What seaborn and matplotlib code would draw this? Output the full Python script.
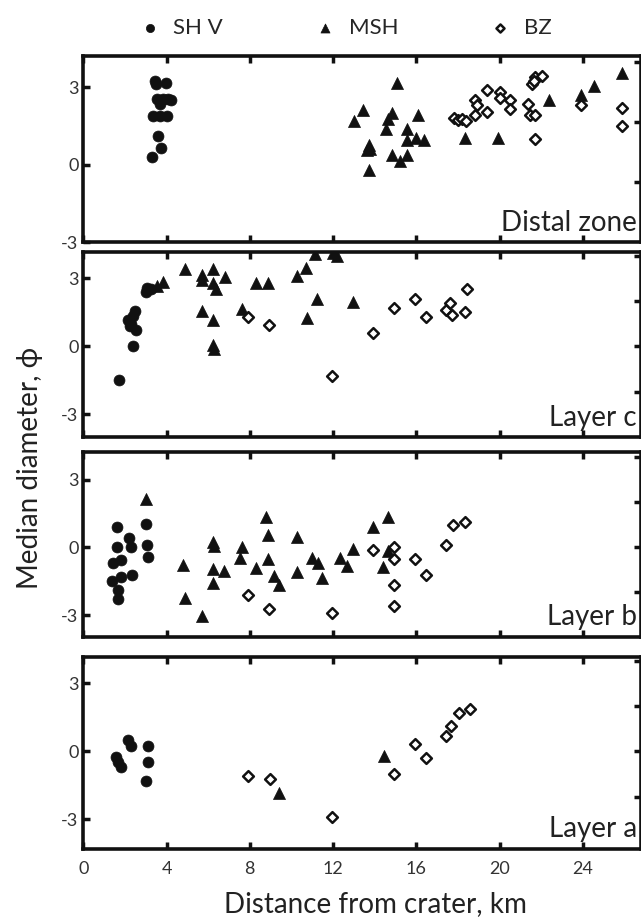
import numpy as np
import pandas as pd
import seaborn as sns
import matplotlib.pyplot as plt

# ---- data (distance km, median diameter phi) ----
# Distal zone
distal_shv_x = [3.45, 3.47, 3.97, 3.56, 3.85, 4.09, 4.2, 3.69, 3.37, 3.69, 4.01, 3.6, 3.74, 3.30]
distal_shv_y = [3.25, 3.15, 3.18, 2.57, 2.57, 2.57, 2.52, 2.37, 1.88, 1.88, 1.88, 1.10, 0.66, 0.32]
distal_msh_x = [15.07, 13.46, 13.01, 14.83, 14.66, 16.06, 14.55, 15.55, 15.55, 16.0, 16.35, 13.75,
                13.65, 13.8, 14.83, 15.55, 15.23, 13.75, 18.32, 19.92, 22.40, 23.91, 24.52, 25.9]
distal_msh_y = [3.18, 2.11, 1.70, 2.01, 1.79, 1.95, 1.37, 1.37, 0.97, 1.05, 0.95, 0.75,
                0.56, 0.62, 0.39, 0.39, 0.13, -0.22, 1.04, 1.04, 2.53, 2.70, 3.05, 3.57]
distal_bz_x = [17.8, 18.0, 18.2, 18.4, 18.83, 18.91, 18.83, 19.42, 19.39, 20.0, 20.03, 20.51,
               20.51, 21.39, 21.48, 21.72, 21.56, 21.72, 22.04, 21.65, 21.72, 23.91, 25.9, 25.9]
distal_bz_y = [1.8, 1.72, 1.78, 1.7, 2.53, 2.31, 1.92, 2.92, 2.05, 2.83, 2.61, 2.50,
               2.18, 2.35, 1.92, 1.92, 3.15, 3.41, 3.44, 3.25, 1.01, 2.31, 2.2, 1.49]

# Layer c
c_shv_x = [1.73, 2.40, 2.16, 2.3, 2.49, 2.53, 2.25, 2.4, 3.05, 3.0, 3.25]
c_shv_y = [-1.50, 0.0, 1.18, 1.0, 1.55, 0.74, 0.89, 1.35, 2.58, 2.39, 2.51]
c_msh_x = [3.56, 3.85, 4.89, 5.69, 5.69, 6.25, 6.25, 6.36, 6.81, 5.69, 6.25, 6.25, 6.28, 7.64,
           8.29, 8.86, 10.26, 10.69, 11.14, 11.22, 10.77, 11.99, 12.18, 12.95]
c_msh_y = [2.65, 2.83, 3.42, 3.13, 2.92, 3.42, 2.80, 2.54, 3.07, 1.55, 1.15, 0.07, -0.12, 1.65,
           2.77, 2.77, 3.10, 3.47, 4.06, 2.07, 1.26, 4.13, 3.98, 1.95]
c_bz_x = [7.89, 8.94, 11.97, 13.94, 14.95, 15.95, 16.46, 17.44, 17.63, 17.74, 18.32, 18.43]
c_bz_y = [1.30, 0.92, -1.30, 0.59, 1.70, 2.10, 1.30, 1.62, 1.92, 1.36, 1.50, 2.51]

# Layer b
b_shv_x = [1.60, 1.60, 1.41, 1.81, 1.36, 1.81, 1.68, 1.68, 2.20, 2.29, 2.33, 3.01, 3.05, 3.13]
b_shv_y = [0.92, 0.0, -0.71, -0.56, -1.47, -1.30, -1.89, -2.29, 0.41, 0.0, -1.22, 1.03, 0.10, -0.41]
b_msh_x = [3.01, 4.78, 4.89, 5.69, 6.22, 6.30, 6.25, 6.25, 6.78, 7.64, 7.53, 8.29, 8.78, 8.86, 8.86,
           9.18, 9.38, 10.26, 10.26, 10.98, 11.27, 11.46, 12.34, 12.66, 12.95, 13.91, 14.66, 14.66, 14.42]
b_msh_y = [2.14, -0.78, -2.26, -3.02, 0.22, 0.07, -0.96, -1.59, -1.03, 0.03, -0.47, -0.93, 1.36, 0.56, -0.51,
           -1.25, -1.66, 0.44, -1.11, -0.47, -0.71, -1.37, -0.47, -0.81, -0.07, 0.92, 1.33, -0.18, -0.85]
b_bz_x = [7.89, 8.94, 11.97, 13.94, 14.95, 14.95, 14.95, 14.95, 15.95, 16.46, 17.44, 17.76, 18.32]
b_bz_y = [-2.11, -2.73, -2.92, -0.10, 0.0, -0.51, -1.69, -2.61, -0.51, -1.22, 0.11, 0.99, 1.11]

# Layer a
a_shv_x = [1.57, 1.68, 1.81, 2.16, 2.29, 3.09, 3.09, 3.0]
a_shv_y = [-0.25, -0.49, -0.71, 0.49, 0.25, 0.25, -0.49, -1.30]
a_msh_x = [9.38, 14.46]
a_msh_y = [-1.84, -0.22]
a_bz_x = [7.89, 8.98, 11.97, 14.95, 15.95, 16.46, 17.42, 17.66, 18.06, 18.56]
a_bz_y = [-1.11, -1.22, -2.92, -1.0, 0.30, -0.32, 0.69, 1.11, 1.70, 1.88]

panel_names = ["Distal zone", "Layer c", "Layer b", "Layer a"]
x_ticks = [0, 4, 8, 12, 16, 20, 24]
y_ticks = [-3, 0, 3]

sns.set_style("white")
plt.rcParams['font.family'] = ['Lato', 'DejaVu Sans']
plt.rcParams['axes.unicode_minus'] = False

panels = [
    (distal_shv_x, distal_shv_y, distal_msh_x, distal_msh_y, distal_bz_x, distal_bz_y),
    (c_shv_x, c_shv_y, c_msh_x, c_msh_y, c_bz_x, c_bz_y),
    (b_shv_x, b_shv_y, b_msh_x, b_msh_y, b_bz_x, b_bz_y),
    (a_shv_x, a_shv_y, a_msh_x, a_msh_y, a_bz_x, a_bz_y),
]

fig = plt.figure(figsize=(6.41, 9.22), dpi=100)
left, width = 0.130, 0.870
rects = [(0.7375, 0.2017), (0.5260, 0.2010), (0.3094, 0.2003), (0.0796, 0.2075)]
ylims = [(-3, 4.22), (-4.0, 4.17), (-3.96, 4.22), (-4.3, 4.15)]
right_ticks = [[-0.67, 1.67, 4.0], [-2, 0, 2, 4], [-2, 0, 2, 4], [-2, 0, 2, 4]]

axes = []
for i, (name, data) in enumerate(zip(panel_names, panels)):
    ax = fig.add_axes([left, rects[i][0], width, rects[i][1]])
    sx, sy, mx, my, bx, by = data
    sns.scatterplot(x=sx, y=sy, ax=ax, marker='o', color='#111', s=62,
                    edgecolor='#111', linewidth=0.5, label='SH V', zorder=3)
    sns.scatterplot(x=mx, y=my, ax=ax, marker='^', color='#111', s=75,
                    edgecolor='#111', linewidth=0.5, label='MSH', zorder=3)
    sns.scatterplot(x=bx, y=by, ax=ax, marker='D', facecolor='white', s=30,
                    edgecolor='#111', linewidth=1.8, label='BZ', zorder=3)
    ax.set_xlim(0, 26.8)
    ax.set_ylim(*ylims[i])
    ax.set_xticks(x_ticks)
    ax.set_yticks(y_ticks)
    ax.tick_params(direction='in', length=5, width=2.5, top=True, bottom=True,
                   labelsize=13, labelcolor='#333', colors='#111')
    ax.tick_params(axis='x', pad=9)
    if i < 3:
        ax.tick_params(labelbottom=False)
    for sp in ax.spines.values():
        sp.set_linewidth(2.6)
        sp.set_color('#111')
    ax.text(0.993, 0.035, name, transform=ax.transAxes, ha='right', va='bottom',
            fontsize=20, color='#222')
    ax2 = ax.twinx()
    ax2.set_ylim(*ylims[i])
    ax2.set_yticks(right_ticks[i])
    ax2.tick_params(direction='in', length=5, width=2.5, labelright=False, colors='#111')
    for sp in ax2.spines.values():
        sp.set_visible(False)
    axes.append(ax)

handles, labels = axes[0].get_legend_handles_labels()
for a in axes:
    a.get_legend().remove()
fig.legend(handles, labels, ncol=3, loc='center', bbox_to_anchor=(0.53, 0.970),
           frameon=False, fontsize=16, handletextpad=0.05, columnspacing=3.6,
           markerscale=0.75)

fig.text(0.586, 0.020, "Distance from crater, km", ha='center', va='center',
         fontsize=20, color='#222')
fig.text(0.047, 0.493, "Median diameter, \u03d5", ha='center', va='center',
         rotation=90, fontsize=20, color='#222')

fig.savefig("out.png", dpi=100)
